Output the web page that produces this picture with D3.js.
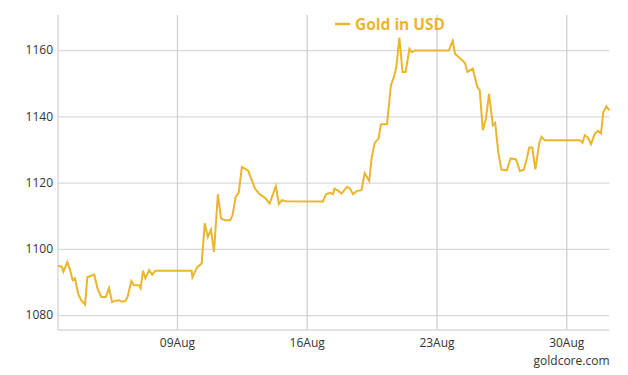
<!DOCTYPE html>
<html>
<head>
<meta charset="utf-8">
<script src="https://cdn.jsdelivr.net/npm/d3@7"></script>
<style>
	body { margin: 0; background: #fff; }
	svg { display: block; font-family: "Open Sans", sans-serif; }
</style>
</head>
<body>
<div id="chart-container"></div>
<script>
var times = [
	"2015-08-02 14:00", "2015-08-02 19:00", "2015-08-02 21:00", "2015-08-03 02:00", "2015-08-03 05:00",
	"2015-08-03 09:00", "2015-08-03 12:00", "2015-08-03 16:00", "2015-08-03 20:00", "2015-08-04 01:00",
	"2015-08-04 04:00", "2015-08-04 13:00", "2015-08-04 17:00", "2015-08-04 22:00", "2015-08-05 04:00",
	"2015-08-05 08:00", "2015-08-05 12:00", "2015-08-05 16:00", "2015-08-05 21:00", "2015-08-06 00:00",
	"2015-08-06 05:00", "2015-08-06 08:00", "2015-08-06 13:00", "2015-08-06 16:00", "2015-08-06 23:00",
	"2015-08-07 01:00", "2015-08-07 04:00", "2015-08-07 07:00", "2015-08-07 12:00", "2015-08-07 16:00",
	"2015-08-07 20:00", "2015-08-09 19:00", "2015-08-09 20:00", "2015-08-10 02:00", "2015-08-10 08:00",
	"2015-08-10 12:00", "2015-08-10 16:00", "2015-08-10 20:00", "2015-08-11 00:00", "2015-08-11 05:00",
	"2015-08-11 09:00", "2015-08-11 14:00", "2015-08-11 21:00", "2015-08-12 00:00", "2015-08-12 04:00",
	"2015-08-12 08:00", "2015-08-12 12:00", "2015-08-12 16:00", "2015-08-12 20:00", "2015-08-13 01:00",
	"2015-08-13 05:00", "2015-08-13 11:00", "2015-08-13 18:00", "2015-08-14 00:00", "2015-08-14 08:00",
	"2015-08-14 12:00", "2015-08-14 16:00", "2015-08-14 21:00", "2015-08-16 21:00", "2015-08-17 01:00",
	"2015-08-17 06:00", "2015-08-17 10:00", "2015-08-17 12:00", "2015-08-17 17:00", "2015-08-17 21:00",
	"2015-08-18 04:00", "2015-08-18 08:00", "2015-08-18 12:00", "2015-08-18 17:00", "2015-08-18 23:00",
	"2015-08-19 03:00", "2015-08-19 06:00", "2015-08-19 09:00", "2015-08-19 12:00", "2015-08-19 16:00",
	"2015-08-19 21:00", "2015-08-20 00:00", "2015-08-20 08:00", "2015-08-20 13:00", "2015-08-20 17:00",
	"2015-08-20 20:00", "2015-08-21 00:00", "2015-08-21 04:00", "2015-08-21 08:00", "2015-08-21 13:00",
	"2015-08-21 16:00", "2015-08-21 20:00", "2015-08-23 16:00", "2015-08-23 21:00", "2015-08-24 00:00",
	"2015-08-24 06:00", "2015-08-24 13:00", "2015-08-24 16:00", "2015-08-24 23:00", "2015-08-25 05:00",
	"2015-08-25 08:00", "2015-08-25 12:00", "2015-08-25 16:00", "2015-08-25 20:00", "2015-08-26 01:00",
	"2015-08-26 04:00", "2015-08-26 08:00", "2015-08-26 12:00", "2015-08-26 19:00", "2015-08-27 00:00",
	"2015-08-27 07:00", "2015-08-27 12:00", "2015-08-27 17:00", "2015-08-27 21:00", "2015-08-28 00:00",
	"2015-08-28 04:00", "2015-08-28 08:00", "2015-08-28 13:00", "2015-08-28 16:00", "2015-08-28 20:00",
	"2015-08-30 18:00", "2015-08-30 21:00", "2015-08-31 00:00", "2015-08-31 04:00", "2015-08-31 08:00",
	"2015-08-31 13:00", "2015-08-31 17:00", "2015-08-31 21:00", "2015-09-01 00:00", "2015-09-01 04:00",
	"2015-09-01 08:00"
];

var gold_usd = [
	1094.9, 1094.6, 1093.1, 1096.0, 1094.1,
	1090.6, 1091.1, 1086.5, 1084.5, 1083.2,
	1091.4, 1092.2, 1088.1, 1085.5, 1085.5,
	1088.2, 1084.0, 1084.3, 1084.5, 1084.1,
	1084.2, 1085.5, 1090.3, 1089.1, 1089.0,
	1088.1, 1093.4, 1091.1, 1093.6, 1092.2,
	1093.4, 1093.4, 1091.4, 1094.4, 1095.6,
	1107.7, 1103.6, 1105.8, 1099.1, 1116.5,
	1109.2, 1108.6, 1108.6, 1110.2, 1115.7,
	1117.0, 1124.7, 1124.2, 1123.7, 1120.7,
	1118.2, 1116.5, 1115.4, 1113.7, 1118.9,
	1113.5, 1114.7, 1114.4, 1114.3, 1116.5,
	1116.9, 1116.5, 1118.2, 1117.5, 1116.7,
	1118.7, 1118.2, 1116.5, 1117.5, 1117.7,
	1122.9, 1121.7, 1120.5, 1127.3, 1132.0,
	1133.3, 1137.6, 1137.6, 1149.4, 1151.9,
	1154.9, 1163.8, 1153.4, 1153.4, 1160.4,
	1159.4, 1159.9, 1159.9, 1162.8, 1158.9,
	1157.6, 1156.1, 1153.4, 1154.4, 1148.8,
	1147.9, 1135.8, 1139.3, 1146.8, 1137.3,
	1138.0, 1129.2, 1123.9, 1123.7, 1127.3,
	1127.0, 1123.5, 1123.9, 1127.3, 1130.6,
	1130.6, 1124.0, 1131.8, 1133.8, 1132.8,
	1132.8, 1132.0, 1134.3, 1133.6, 1131.6,
	1134.8, 1135.6, 1134.8, 1141.3, 1143.0,
	1141.8
];

var y_ticks = [1080, 1100, 1120, 1140, 1160];
var x_ticks = ["2015-08-09", "2015-08-16", "2015-08-23", "2015-08-30"];
var series_name = "Gold in USD";
var credit = "goldcore.com";

var gold_color = "#ebb52c";
var grid_color = "#d9d9d9";
var text_color = "#333";

draw_chart();

function draw_chart() {
	var width = 628, height = 375;
	var left = 58, right = 609.5, top = 15, bottom = 330;

	var parse_time = d3.timeParse("%Y-%m-%d %H:%M");
	var parse_day = d3.timeParse("%Y-%m-%d");
	var data = times.map(function(t, i) {
		return { date: parse_time(t), value: gold_usd[i] };
	});

	var svg = d3.select("#chart-container").append("svg")
				.attr("width", width)
				.attr("height", height);

	var x = d3.scaleTime()
			  .domain(d3.extent(data, function(d) { return d.date; }))
			  .range([left, right]);

	var y = d3.scaleLinear()
			  .domain([1075.5, 1170.6])
			  .range([bottom, top]);

	// horizontal grid + y labels
	var y_axis = svg.append("g")
					.attr("transform", "translate(" + left + ",0)")
					.call(d3.axisLeft(y)
						.tickValues(y_ticks)
						.tickSize(-(right - left))
						.tickPadding(5)
						.tickFormat(d3.format("d")));
	style_axis(y_axis);

	// vertical grid + x labels
	var x_axis = svg.append("g")
					.attr("transform", "translate(0," + bottom + ")")
					.call(d3.axisBottom(x)
						.tickValues(x_ticks.map(parse_day))
						.tickSize(-(bottom - top))
						.tickPadding(8)
						.tickFormat(d3.timeFormat("%d%b")));
	style_axis(x_axis);
	x_axis.selectAll(".tick line").attr("stroke", "#cfcfcf");

	// left and bottom frame lines
	svg.append("line")
	   .attr("x1", left).attr("x2", left)
	   .attr("y1", top).attr("y2", bottom)
	   .attr("stroke", grid_color)
	   .attr("stroke-width", 1.5);
	svg.append("line")
	   .attr("x1", left).attr("x2", right)
	   .attr("y1", bottom).attr("y2", bottom)
	   .attr("stroke", grid_color)
	   .attr("stroke-width", 1.5);

	var line = d3.line()
				 .x(function(d) { return x(d.date); })
				 .y(function(d) { return y(d.value); });

	svg.append("path")
	   .datum(data)
	   .attr("d", line)
	   .attr("fill", "none")
	   .attr("stroke", gold_color)
	   .attr("stroke-width", 2)
	   .attr("stroke-linejoin", "miter");

	// legend
	var legend = svg.append("g")
					.attr("transform", "translate(335,24)");
	legend.append("line")
		  .attr("x1", 0).attr("x2", 15)
		  .attr("stroke", gold_color)
		  .attr("stroke-width", 2.5);
	legend.append("text")
		  .attr("x", 20)
		  .attr("y", 6)
		  .attr("fill", gold_color)
		  .attr("font-size", 15.5)
		  .attr("font-weight", "bold")
		  .text(series_name);

	svg.append("text")
	   .attr("x", right)
	   .attr("y", 365)
	   .attr("text-anchor", "end")
	   .attr("fill", text_color)
	   .attr("font-size", 12)
	   .text(credit);
}

function style_axis(axis) {
	axis.select(".domain").remove();
	axis.selectAll(".tick line")
		.attr("stroke", grid_color)
		.attr("stroke-width", 1.3);
	axis.selectAll(".tick text")
		.attr("fill", text_color)
		.attr("font-size", 12)
		.attr("font-family", "Open Sans, sans-serif");
}
</script>
</body>
</html>
